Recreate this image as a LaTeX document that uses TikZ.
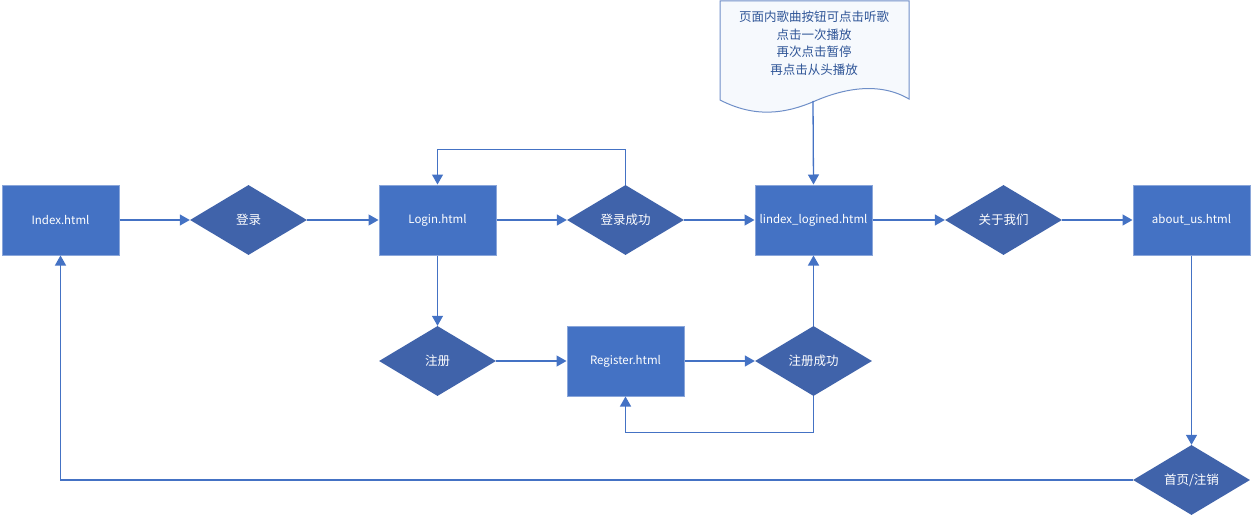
\documentclass[tikz,border=0pt]{standalone}
\usepackage{fontspec}
\setmainfont{Noto Sans CJK SC}
\usetikzlibrary{shapes.geometric,arrows.meta}
\definecolor{rectfill}{HTML}{4472C4}
\definecolor{rectborder}{HTML}{8AA6DA}
\definecolor{diafill}{HTML}{4063AA}
\definecolor{linec}{HTML}{4472C4}
\definecolor{doctext}{HTML}{2F5597}
\definecolor{docborder}{HTML}{6F8FC8}
\definecolor{docfill}{HTML}{F6F9FD}
\tikzset{
  page/.style={rectangle,fill=rectfill,draw=rectborder,line width=1pt,minimum width=117pt,minimum height=70pt,inner sep=0pt,text=white,font=\fontsize{11.5}{13}\selectfont},
  choice/.style={diamond,fill=diafill,draw=none,aspect=1.67,minimum width=117pt,minimum height=70pt,inner sep=0pt,text=white,font=\fontsize{12.5}{14}\selectfont},
  conn/.style={draw=linec,line width=1.3pt,-{Triangle[length=10pt,width=11pt]}}
}
\begin{document}
\begin{tikzpicture}[x=1pt,y=-1pt]
\useasboundingbox (0,0) rectangle (1253,516);
% document shape
\draw[docborder,fill=docfill,line width=1pt] (720,1) -- (909,1) -- (909,99)
  .. controls (880,82) and (845,88) .. (815,101)
  .. controls (785,114) and (755,118) .. (720,100) -- cycle;
\node[text=doctext,align=center,font=\fontsize{12.5}{17.5}\selectfont] (doc) at (814,43) {页面内歌曲按钮可点击听歌\\点击一次播放\\再次点击暂停\\再点击从头播放};
\coordinate (docb) at (813,101);
% nodes
\node[page] (index) at (60.5,220) {Index.html};
\node[choice] (dl) at (248.5,220) {登录};
\node[page] (login) at (437.5,220) {Login.html};
\node[choice] (dlcg) at (625.5,220) {登录成功};
\node[page] (logined) at (813.5,220) {lindex\_logined.html};
\node[choice] (gy) at (1003.5,220) {关于我们};
\node[page] (about) at (1191.5,220) {about\_us.html};
\node[choice] (zc) at (437.5,361) {注册};
\node[page] (reg) at (625.5,361) {Register.html};
\node[choice] (zccg) at (813.5,361) {注册成功};
\node[choice] (sy) at (1191.5,480) {首页/注销};
% connectors
\draw[conn] (index.east) -- (dl.west);
\draw[conn] (dl.east) -- (login.west);
\draw[conn] (login.east) -- (dlcg.west);
\draw[conn] (dlcg.east) -- (logined.west);
\draw[conn] (logined.east) -- (gy.west);
\draw[conn] (gy.east) -- (about.west);
\draw[conn] (dlcg.north) -- ++(0,-35) -| (login.north);
\draw[conn] (login.south) -- (zc.north);
\draw[conn] (zc.east) -- (reg.west);
\draw[conn] (reg.east) -- (zccg.west);
\draw[conn] (zccg.north) -- (logined.south);
\draw[conn] (zccg.south) -- ++(0,36) -| (reg.south);
\draw[conn] (docb) -- (logined.north);
\draw[conn] (about.south) -- (sy.north);
\draw[conn] (sy.west) -| (index.south);
\end{tikzpicture}
\end{document}
